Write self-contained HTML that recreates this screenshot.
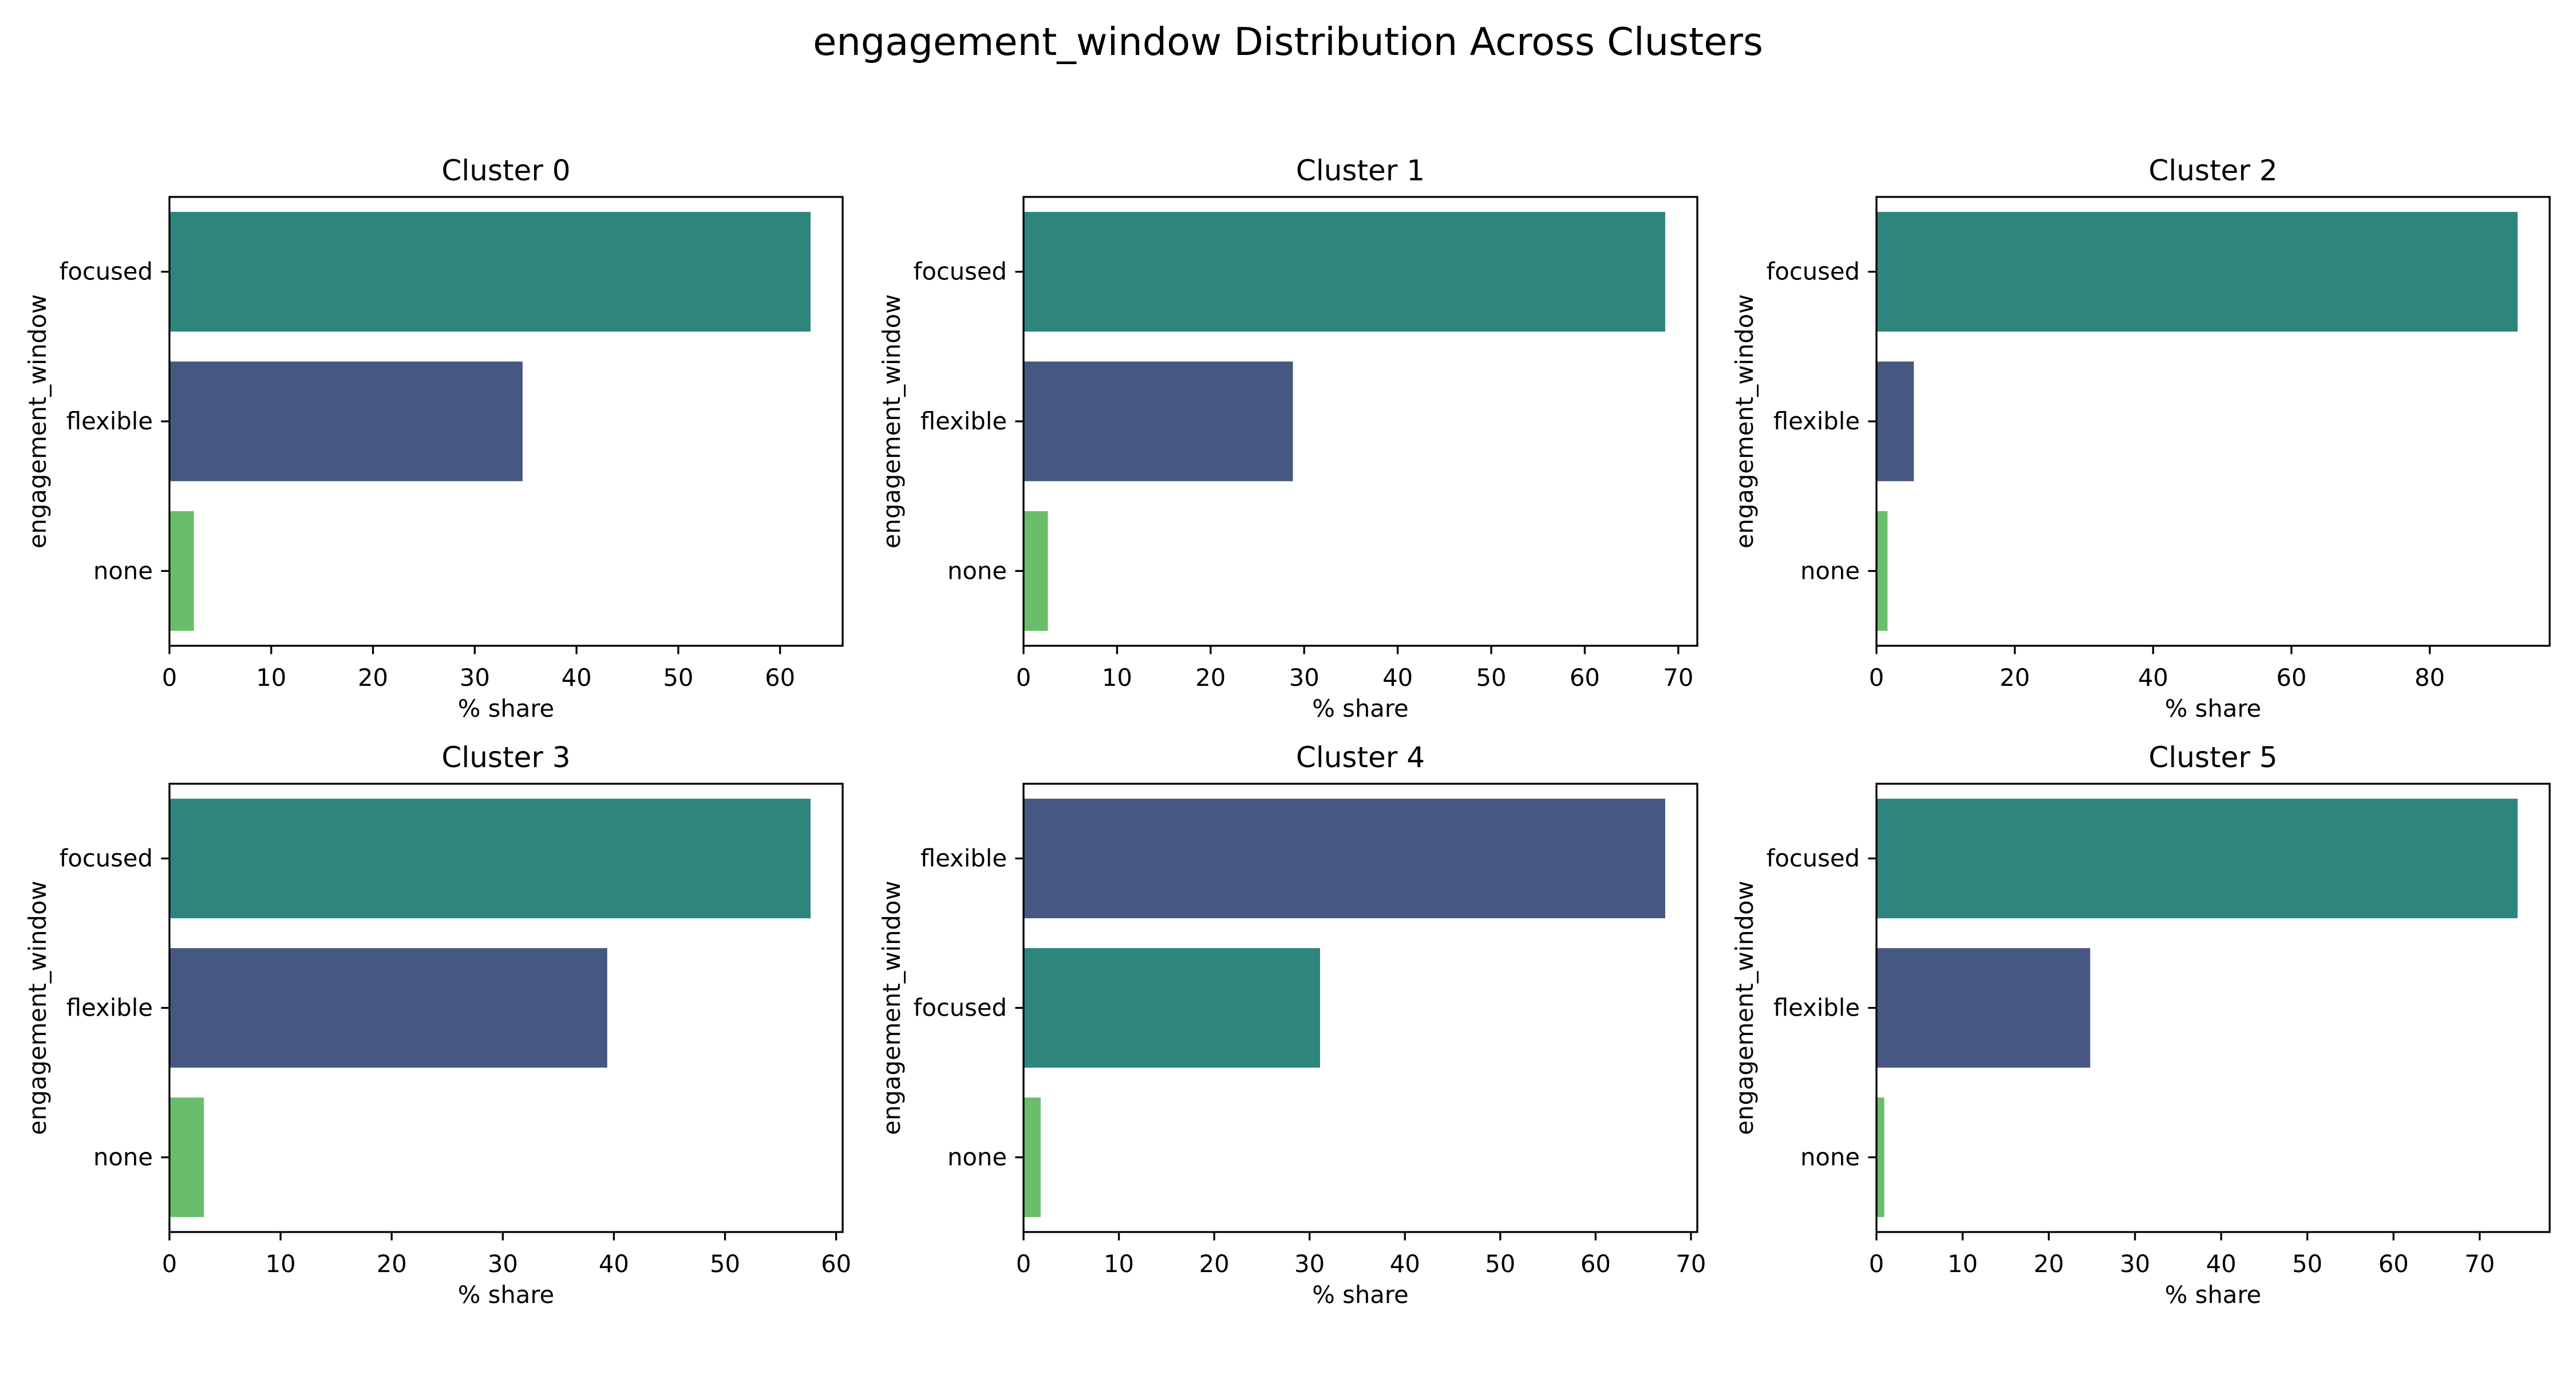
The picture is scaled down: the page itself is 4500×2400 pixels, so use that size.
<!DOCTYPE html>
<html><head><meta charset="utf-8"><style>
html,body{margin:0;padding:0;background:#fff;}
svg{display:block;font-family:"DejaVu Sans","Liberation Sans",sans-serif;}
</style></head><body>
<svg id="chart" width="4500" height="2400" viewBox="0 0 4500 2400">
<text x="2250" y="96" font-size="67" text-anchor="middle" fill="#000">engagement_window Distribution Across Clusters</text>
</svg>
<script>
const clusterNames = ["Cluster 0","Cluster 1","Cluster 2","Cluster 3","Cluster 4","Cluster 5"];
const categories0 = ["focused","flexible","none"];
const categories1 = ["focused","flexible","none"];
const categories2 = ["focused","flexible","none"];
const categories3 = ["focused","flexible","none"];
const categories4 = ["flexible","focused","none"];
const categories5 = ["focused","flexible","none"];
const values0 = [63.0, 34.7, 2.4];
const values1 = [68.6, 28.8, 2.6];
const values2 = [92.7, 5.4, 1.6];
const values3 = [57.7, 39.4, 3.1];
const values4 = [67.3, 31.1, 1.8];
const values5 = [74.4, 24.8, 0.9];
const ticks0 = [0,10,20,30,40,50,60];
const ticks1 = [0,10,20,30,40,50,60,70];
const ticks2 = [0,20,40,60,80];
const ticks3 = [0,10,20,30,40,50,60];
const ticks4 = [0,10,20,30,40,50,60,70];
const ticks5 = [0,10,20,30,40,50,60,70];

const allCats=[categories0,categories1,categories2,categories3,categories4,categories5];
const allVals=[values0,values1,values2,values3,values4,values5];
const allTicks=[ticks0,ticks1,ticks2,ticks3,ticks4,ticks5];
const colorMap={focused:"#2e857e",flexible:"#465881",none:"#6abd6b"};
const NS="http://www.w3.org/2000/svg";
const svg=document.getElementById('chart');
function mk(tag,attrs,parent){const e=document.createElementNS(NS,tag);for(const k in attrs)e.setAttribute(k,attrs[k]);(parent||svg).appendChild(e);return e;}
const lefts=[296,1788,3278], rights=[1472,2965,4454], tops=[344,1369], bottoms=[1128,2152];
for(let i=0;i<6;i++){
  const col=i%3,row=Math.floor(i/3);
  const L=lefts[col],R=rights[col],T=tops[row],B=bottoms[row];
  const cats=allCats[i],vals=allVals[i],ticks=allTicks[i];
  const xmax=Math.max(...vals)*1.05;
  const xs=v=>L+(v/xmax)*(R-L);
  const ys=c=>T+((c+0.5)/cats.length)*(B-T);
  const band=(B-T)/cats.length;
  const g=mk('g',{});
  
  
  vals.forEach((v,j)=>{
    const r=mk('rect',{x:xs(0),y:ys(j)-0.4*band,width:xs(v)-xs(0),height:0.8*band,fill:colorMap[cats[j]]},g);
    
    
    mk('line',{x1:L-14.6,x2:L,y1:ys(j),y2:ys(j),stroke:'#000','stroke-width':3.3},g);
    const t=mk('text',{x:L-29,y:ys(j)+14,'font-size':41.7,'text-anchor':'end',fill:'#000'},g);
    t.textContent=cats[j];
    
    
  });
  ticks.forEach(tv=>{
    mk('line',{x1:xs(tv),x2:xs(tv),y1:B,y2:B+14.6,stroke:'#000','stroke-width':3.3},g);
    const t=mk('text',{x:xs(tv),y:B+70,'font-size':41.7,'text-anchor':'middle',fill:'#000'},g);
    t.textContent=tv;
    
    
  });
  const fr=mk('rect',{x:L,y:T,width:R-L,height:B-T,fill:'none',stroke:'#000','stroke-width':3.3},g);
  
  
  const ti=mk('text',{x:(L+R)/2,y:T-29,'font-size':50,'text-anchor':'middle',fill:'#000'},g);
  ti.textContent=clusterNames[i];
  
  
  const xl=mk('text',{x:(L+R)/2,y:B+124,'font-size':41.7,'text-anchor':'middle',fill:'#000'},g);
  xl.textContent='% share';
  
  
  const yx=L-216,yy=(T+B)/2;
  const yl=mk('text',{x:yx,y:yy,'font-size':41.7,'text-anchor':'middle',fill:'#000',transform:`rotate(-90 ${yx} ${yy})`},g);
  yl.textContent='engagement_window';
  
  
}
</script>
</body></html>
